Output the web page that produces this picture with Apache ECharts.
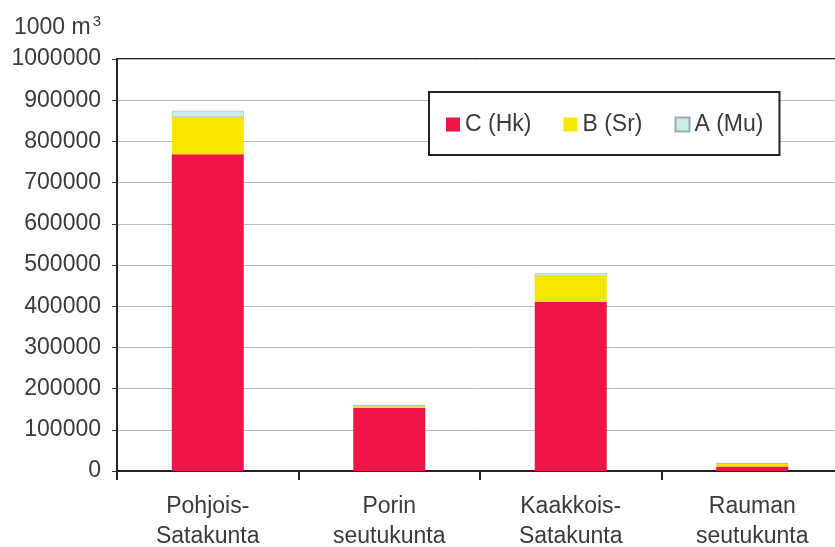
<!DOCTYPE html>
<html>
<head>
<meta charset="utf-8">
<script src="https://cdn.jsdelivr.net/npm/echarts@6/dist/echarts.min.js"></script>
<style>html,body{margin:0;padding:0;background:#fff}#c{width:835px;height:547px}</style>
</head>
<body>
<div id="c"></div>
<script>
var categories = ['Pohjois-\nSatakunta', 'Porin\nseutukunta', 'Kaakkois-\nSatakunta', 'Rauman\nseutukunta'];
var seriesNames = ['C (Hk)', 'B (Sr)', 'A (Mu)'];
var valuesC = [769000, 153000, 410000, 11000];
var valuesB = [90000, 4000, 63000, 7000];
var valuesA = [15000, 3000, 7000, 1000];
var yTicks = { min: 0, max: 1000000, interval: 100000 };

var chart = echarts.init(document.getElementById('c'));
var font = 'Liberation Sans, Arial, sans-serif';
chart.setOption({
  animation: false,
  backgroundColor: '#fff',
  textStyle: { fontFamily: font },
  title: {
    text: '{a|1000 m}{b|3}',
    left: 9, top: 9,
    textStyle: {
      fontWeight: 'normal',
      rich: {
        a: { fontSize: 23, color: '#3a3a3a', fontFamily: font, fontWeight: 'normal' },
        b: { fontSize: 15, color: '#3a3a3a', fontFamily: font, fontWeight: 'normal', verticalAlign: 'top', padding: [0, 0, 12, 2] }
      }
    }
  },
  legend: {
    left: 429, top: 92,
    padding: [21, 16, 19, 17],
    backgroundColor: '#fff',
    borderColor: '#222', borderWidth: 2,
    itemWidth: 14, itemHeight: 14, itemGap: 32,
    icon: 'rect',
    textStyle: { fontSize: 23, color: '#3a3a3a', fontFamily: font },
    data: seriesNames
  },
  grid: {
    left: 117, top: 59, width: 726, height: 412,
    outerBoundsMode: 'none',
    containLabel: false,
    show: true, borderColor: '#222', borderWidth: 2, backgroundColor: 'transparent'
  },
  xAxis: {
    type: 'category',
    data: categories,
    axisLine: { lineStyle: { color: '#222', width: 2 } },
    axisTick: { show: true, length: 9, lineStyle: { color: '#222', width: 2 } },
    axisLabel: { fontSize: 23, color: '#3a3a3a', lineHeight: 30, margin: 21, interval: 0 }
  },
  yAxis: {
    type: 'value',
    min: yTicks.min, max: yTicks.max, interval: yTicks.interval,
    axisLine: { show: true, lineStyle: { color: '#222', width: 2 } },
    axisTick: { show: true, length: 5, lineStyle: { color: '#333' } },
    axisLabel: { fontSize: 23, color: '#3a3a3a', margin: 16, formatter: function (v) { return String(v); } },
    splitLine: { lineStyle: { color: '#bbb', width: 1 } }
  },
  series: [
    { name: seriesNames[0], type: 'bar', stack: 's', data: valuesC, barWidth: 72,
      itemStyle: { color: '#f01547' } },
    { name: seriesNames[1], type: 'bar', stack: 's', data: valuesB, barWidth: 72,
      itemStyle: { color: '#f7e600' } },
    { name: seriesNames[2], type: 'bar', stack: 's', data: valuesA, barWidth: 72,
      itemStyle: { color: '#cdeedd', borderColor: '#9ab', borderWidth: 0.5 } }
  ]
});
</script>
</body>
</html>
